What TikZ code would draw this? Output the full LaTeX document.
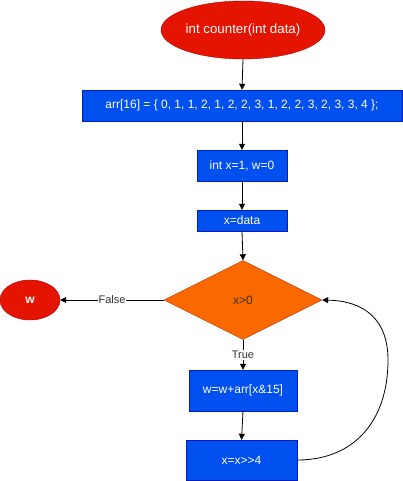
\documentclass[tikz,border=0pt]{standalone}
\usepackage{fontspec}
\setmainfont{Liberation Sans}[Ligatures=NoCommon]
\usetikzlibrary{shapes.geometric,arrows.meta}
\definecolor{rd}{HTML}{E51400}
\definecolor{rdb}{HTML}{B20000}
\definecolor{bl}{HTML}{0050EF}
\definecolor{blb}{HTML}{001DBC}
\definecolor{og}{HTML}{FA6800}
\definecolor{ogb}{HTML}{C73500}
\begin{document}
\begin{tikzpicture}[x=1pt,y=-1pt,
  bbox/.style={rectangle,draw=blb,fill=bl,text=white,inner sep=0pt,font=\fontsize{12}{14}\selectfont},
  ebox/.style={ellipse,draw=rdb,fill=rd,text=white,inner sep=0pt,font=\fontsize{12}{14}\selectfont},
  dbox/.style={diamond,draw=ogb,fill=og,text=black!80,inner sep=0pt,aspect=2,font=\fontsize{12}{14}\selectfont},
  arr/.style={-{Triangle[length=6pt,width=6pt]},line width=0.8pt},
  lbl/.style={fill=white,inner sep=1pt,font=\fontsize{11}{13}\selectfont,text=black!80}]
\useasboundingbox (0,0) rectangle (403,481);
\node[ebox,minimum width=164pt,minimum height=58pt,font=\fontsize{13.3}{15}\selectfont] (start) at (243,30) {int counter(int data)};
\node[bbox,minimum width=320pt,minimum height=31pt] (a) at (242,105.5) {arr[16] = \{ 0, 1, 1, 2, 1, 2, 2, 3, 1, 2, 2, 3, 2, 3, 3, 4 \};};
\node[bbox,minimum width=90pt,minimum height=31pt] (b) at (242,165.5) {int x=1, w=0};
\node[bbox,minimum width=90pt,minimum height=21pt] (c) at (242,220.5) {x=data};
\node[dbox,minimum width=158pt,minimum height=79pt] (d) at (243,300) {x>0};
\node[ebox,minimum width=60pt,minimum height=40pt] (w) at (30,300) {\textbf{w}};
\node[bbox,minimum width=108pt,minimum height=41pt] (e) at (243,390.5) {w=w+arr[x\&15]};
\node[bbox,minimum width=111pt,minimum height=40pt] (f) at (241.5,460) {x=x{>}{>}4};
\coordinate (bend) at (388,360);
\draw[arr] (start.south) -- (a.north);
\draw[arr] (a.south) -- (b.north);
\draw[arr] (b.south) -- (c.north);
\draw[arr] (c.south) -- (d.north);
\draw[arr] (d.west) -- node[lbl] {False} (w.east);
\draw[arr] (d.south) -- node[lbl,pos=0.5] {True} (e.north);
\draw[arr] (e.south) -- (f.north);
\draw[arr] (f.east) .. controls (355,460) and (388,420) .. (bend) .. controls (388,320) and (365,301) .. (d.east);
\end{tikzpicture}
\end{document}
